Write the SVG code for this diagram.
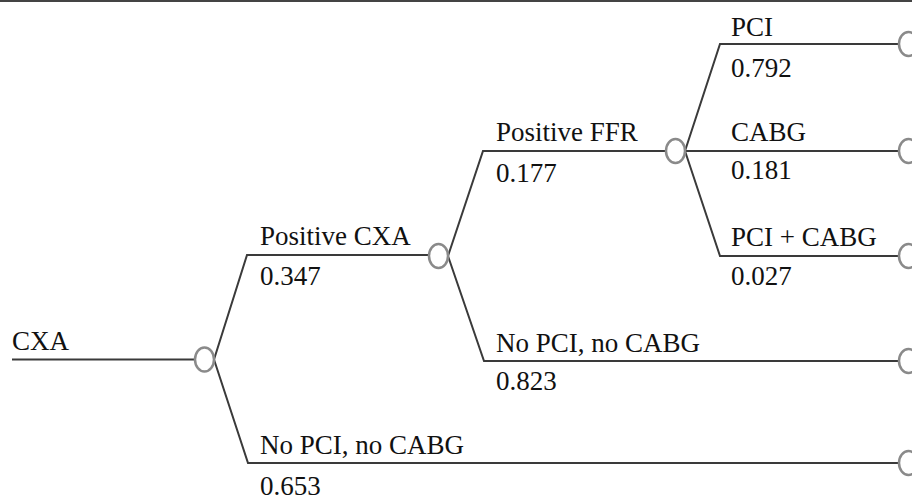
<svg xmlns="http://www.w3.org/2000/svg" width="912" height="502" viewBox="0 0 912 502">
<style>
.t{font-family:"Liberation Serif","Times New Roman",serif;font-size:27px;fill:#111}
.c{fill:#fff;stroke:#8a8a8a;stroke-width:2.5}
.e{fill:none;stroke:#3a3a3a;stroke-width:2}
</style>
<rect width="912" height="502" fill="#fff"/>
<line x1="0" y1="1" x2="912" y2="1" stroke="#444" stroke-width="2"/>
<g id="connectors">
<path class="e" d="M12 359.5H195"/>
<path class="e" d="M214 359.5L247 255H429"/>
<path class="e" d="M214 359.5L248 463H899"/>
<path class="e" d="M448 256L483 151H666"/>
<path class="e" d="M448 256L484 361H899"/>
<path class="e" d="M685 151L720 44H899"/>
<path class="e" d="M685 151H899"/>
<path class="e" d="M685 151L720 256H899"/>
</g>
<g id="n_root"><text class="t" x="12" y="350">CXA</text></g>
<g id="n_chance1"><ellipse class="c" cx="204.5" cy="359.5" rx="9.5" ry="12"/></g>
<g id="n_poscxa"><text class="t" x="260" y="245">Positive CXA</text><text class="t" x="260" y="285">0.347</text><ellipse class="c" cx="438.5" cy="256" rx="9.5" ry="12"/></g>
<g id="n_noproc1"><text class="t" x="260" y="454">No PCI, no CABG</text><text class="t" x="260" y="495">0.653</text><ellipse class="c" cx="908.5" cy="463" rx="9.5" ry="12"/></g>
<g id="n_posffr"><text class="t" x="496" y="141">Positive FFR</text><text class="t" x="496" y="182">0.177</text><ellipse class="c" cx="675.5" cy="151" rx="9.5" ry="12"/></g>
<g id="n_noproc2"><text class="t" x="496" y="352">No PCI, no CABG</text><text class="t" x="496" y="390">0.823</text><ellipse class="c" cx="908.5" cy="361" rx="9.5" ry="12"/></g>
<g id="n_pci"><text class="t" x="731" y="36">PCI</text><text class="t" x="731" y="77">0.792</text><ellipse class="c" cx="908.5" cy="44" rx="9.5" ry="12"/></g>
<g id="n_cabg"><text class="t" x="731" y="141">CABG</text><text class="t" x="731" y="179">0.181</text><ellipse class="c" cx="908.5" cy="151" rx="9.5" ry="12"/></g>
<g id="n_both"><text class="t" x="731" y="246">PCI + CABG</text><text class="t" x="731" y="285">0.027</text><ellipse class="c" cx="908.5" cy="256" rx="9.5" ry="12"/></g>
</svg>
